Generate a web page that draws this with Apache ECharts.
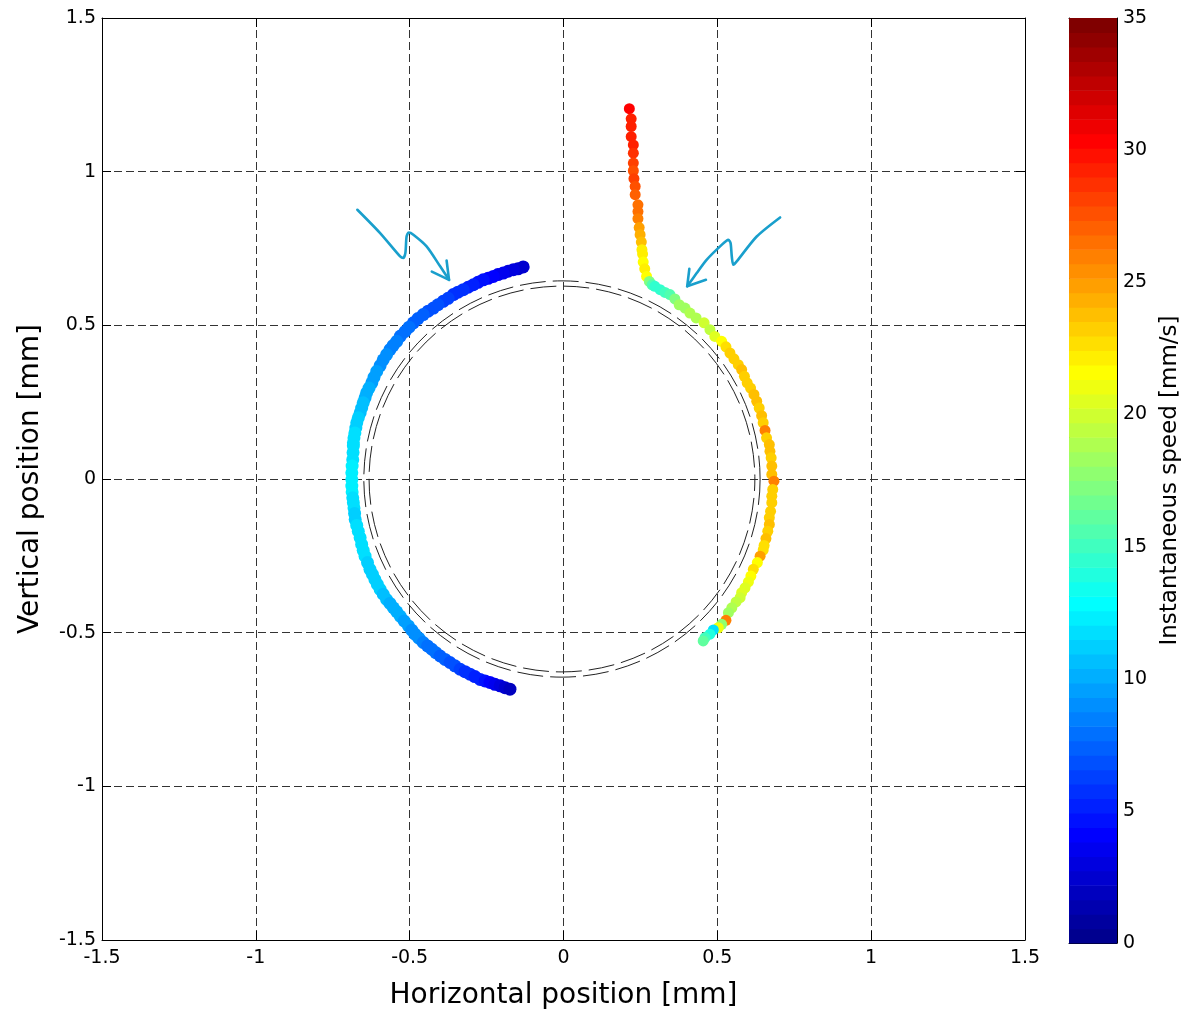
<!DOCTYPE html>
<html>
<head>
<meta charset="utf-8">
<script src="https://cdn.jsdelivr.net/npm/echarts@6/dist/echarts.min.js"></script>
<style>
  html, body { margin: 0; padding: 0; background: #fff; }
  #chart { width: 1186px; height: 1015px; }
</style>
</head>
<body>
<div id="chart"></div>
<script>
// Axis ticks (mm) and colour scale ticks (mm/s)
const posTicks = [-1.5, -1, -0.5, 0, 0.5, 1, 1.5];
const speedTicks = [0, 5, 10, 15, 20, 25, 30, 35];

// Incoming path from above, then around the right side: [x mm, y mm, speed mm/s]
const rightPath = [
  [0.214, 1.205, 30.5], [0.220, 1.172, 29.5], [0.220, 1.147, 29.5], [0.220, 1.114, 29],
  [0.227, 1.087, 29], [0.227, 1.060, 28.5], [0.227, 1.028, 28], [0.227, 1.003, 27.5],
  [0.229, 0.977, 28], [0.233, 0.952, 27.5], [0.233, 0.925, 27], [0.242, 0.892, 26.5],
  [0.242, 0.870, 26.5], [0.242, 0.847, 26], [0.246, 0.818, 25], [0.249, 0.795, 24.5],
  [0.253, 0.771, 24], [0.255, 0.746, 22], [0.257, 0.732, 22], [0.259, 0.706, 21.5],
  [0.264, 0.684, 22], [0.270, 0.659, 21.5], [0.279, 0.643, 17], [0.288, 0.632, 15.5],
  [0.297, 0.627, 14.5], [0.314, 0.616, 14.5], [0.330, 0.607, 15], [0.346, 0.600, 15.5],
  [0.362, 0.586, 17], [0.376, 0.567, 18.5], [0.395, 0.556, 18.5], [0.411, 0.540, 19],
  [0.431, 0.524, 19], [0.457, 0.508, 20], [0.476, 0.486, 19.5], [0.492, 0.464, 20.5],
  [0.514, 0.448, 21.5], [0.528, 0.430, 22.5], [0.541, 0.410, 23], [0.554, 0.391, 23],
  [0.568, 0.372, 23], [0.579, 0.356, 24], [0.588, 0.334, 23], [0.597, 0.313, 23.5],
  [0.608, 0.296, 23.5], [0.619, 0.275, 24], [0.628, 0.253, 24], [0.636, 0.231, 23.5],
  [0.644, 0.206, 24], [0.649, 0.183, 23.5], [0.655, 0.158, 26], [0.660, 0.134, 23.5],
  [0.669, 0.112, 24], [0.671, 0.090, 24], [0.675, 0.069, 23], [0.677, 0.042, 24],
  [0.677, 0.015, 24], [0.684, -0.007, 26], [0.680, -0.034, 23.5], [0.677, -0.056, 23.5],
  [0.677, -0.077, 23.5], [0.673, -0.105, 23], [0.669, -0.126, 23.5], [0.669, -0.148, 24],
  [0.664, -0.170, 23], [0.658, -0.194, 24], [0.652, -0.216, 22.5], [0.649, -0.231, 22.5],
  [0.639, -0.251, 25], [0.630, -0.272, 21.5], [0.617, -0.294, 22.5], [0.609, -0.316, 21.5],
  [0.601, -0.335, 21], [0.590, -0.354, 20.5], [0.579, -0.370, 20.5], [0.574, -0.386, 20],
  [0.561, -0.400, 19.5], [0.547, -0.419, 19], [0.536, -0.435, 18.5], [0.528, -0.460, 26],
  [0.514, -0.473, 18], [0.503, -0.484, 21], [0.487, -0.491, 12], [0.476, -0.505, 14],
  [0.460, -0.516, 15], [0.454, -0.527, 16]
];

// Slow sweep around the left side: [x mm, y mm, speed mm/s]
const leftPath = [
  [-0.131, 0.690, 2.5], [-0.148, 0.684, 2.7], [-0.163, 0.681, 3], [-0.180, 0.676, 3.2],
  [-0.196, 0.670, 3.5], [-0.213, 0.665, 3.8], [-0.228, 0.659, 4], [-0.245, 0.653, 4.2],
  [-0.261, 0.648, 4.5], [-0.278, 0.640, 4.8], [-0.293, 0.632, 5], [-0.310, 0.624, 5.2],
  [-0.326, 0.616, 5.5], [-0.343, 0.608, 5.8], [-0.358, 0.600, 6], [-0.375, 0.588, 6.2],
  [-0.391, 0.578, 6.5], [-0.408, 0.567, 6.8], [-0.423, 0.556, 7], [-0.440, 0.546, 7],
  [-0.456, 0.535, 7.2], [-0.473, 0.522, 7.3], [-0.488, 0.508, 7.5], [-0.502, 0.494, 7.8],
  [-0.515, 0.480, 8], [-0.530, 0.465, 8.2], [-0.542, 0.448, 8.5], [-0.554, 0.434, 8.5],
  [-0.564, 0.421, 8.7], [-0.575, 0.405, 8.8], [-0.586, 0.388, 9], [-0.596, 0.369, 9.2],
  [-0.607, 0.350, 9.5], [-0.616, 0.331, 9.5], [-0.623, 0.313, 9.7], [-0.632, 0.296, 10],
  [-0.640, 0.280, 10], [-0.645, 0.264, 10.2], [-0.651, 0.248, 10.5], [-0.656, 0.231, 10.5],
  [-0.661, 0.215, 10.7], [-0.667, 0.199, 11], [-0.672, 0.183, 11], [-0.675, 0.166, 11.2],
  [-0.678, 0.150, 11.5], [-0.681, 0.134, 11.5], [-0.683, 0.118, 11.7], [-0.683, 0.107, 12],
  [-0.684, 0.086, 12], [-0.685, 0.063, 12], [-0.687, 0.042, 12.3], [-0.688, 0.020, 12.5],
  [-0.688, -0.002, 12.5], [-0.688, -0.023, 12.5], [-0.687, -0.042, 12.2], [-0.685, -0.061, 12],
  [-0.683, -0.077, 11.7], [-0.681, -0.094, 11.5], [-0.679, -0.112, 11.2], [-0.677, -0.132, 11],
  [-0.672, -0.151, 11.5], [-0.667, -0.170, 12], [-0.661, -0.191, 12], [-0.656, -0.213, 12],
  [-0.651, -0.232, 11.8], [-0.645, -0.251, 11.5], [-0.637, -0.272, 11.2], [-0.629, -0.294, 11],
  [-0.621, -0.310, 11], [-0.613, -0.327, 11], [-0.605, -0.343, 11], [-0.596, -0.359, 11],
  [-0.586, -0.375, 10.8], [-0.575, -0.392, 10.5], [-0.564, -0.405, 10.2], [-0.553, -0.419, 10],
  [-0.542, -0.432, 10], [-0.531, -0.446, 10], [-0.518, -0.462, 9.8], [-0.504, -0.478, 9.5],
  [-0.493, -0.492, 9.2], [-0.483, -0.505, 9], [-0.470, -0.518, 8.8], [-0.456, -0.532, 8.5],
  [-0.442, -0.543, 8.2], [-0.428, -0.554, 8], [-0.415, -0.565, 7.8], [-0.401, -0.576, 7.5],
  [-0.385, -0.587, 7.2], [-0.369, -0.597, 7], [-0.353, -0.608, 6.8], [-0.336, -0.619, 6.5],
  [-0.320, -0.627, 6], [-0.304, -0.635, 5.5], [-0.288, -0.643, 5.2], [-0.271, -0.652, 5],
  [-0.255, -0.657, 4.5], [-0.239, -0.662, 4], [-0.223, -0.668, 3.5], [-0.206, -0.673, 3],
  [-0.190, -0.679, 2.5], [-0.174, -0.684, 2]
];

// Target ring boundaries: [centre x, centre y, radius] in mm
const rings = [[-0.005, 0, 0.644], [-0.005, 0, 0.627]];

// Hand-drawn pointer strokes (mm) and their arrow heads
const leftPointer = [
  [-0.670, 0.876], [-0.596, 0.800], [-0.531, 0.724], [-0.521, 0.719], [-0.514, 0.735],
  [-0.510, 0.789], [-0.503, 0.802], [-0.488, 0.795], [-0.445, 0.757], [-0.401, 0.692], [-0.372, 0.648]
];
const leftHead = [[-0.380, 0.711], [-0.372, 0.648], [-0.428, 0.675]];
const rightPointer = [
  [0.704, 0.851], [0.628, 0.789], [0.563, 0.708], [0.552, 0.697], [0.547, 0.724],
  [0.543, 0.768], [0.536, 0.778], [0.509, 0.757], [0.465, 0.713], [0.433, 0.670], [0.402, 0.627]
];
const rightHead = [[0.409, 0.684], [0.402, 0.627], [0.463, 0.648]];

// MATLAB-style jet colormap with m levels
function jet(m) {
  const n = Math.ceil(m / 4);
  const u = [];
  for (let i = 1; i <= n; i++) u.push(i / n);
  for (let i = 1; i < n; i++) u.push(1);
  for (let i = n; i >= 1; i--) u.push(i / n);
  const g0 = Math.ceil(n / 2) - (m % 4 === 1 ? 1 : 0);
  const rgb = Array.from({ length: m }, () => [0, 0, 0]);
  u.forEach((v, k) => {
    const g = g0 + k;          // zero-based green index
    const r = g + n, b = g - n;
    if (r >= 0 && r < m) rgb[r][0] = v;
    if (g >= 0 && g < m) rgb[g][1] = v;
    if (b >= 0 && b < m) rgb[b][2] = v;
  });
  return rgb.map(c => 'rgb(' + c.map(x => Math.round(x * 255)).join(',') + ')');
}

const levels = 64;
const cmin = speedTicks[0], cmax = speedTicks[speedTicks.length - 1];
const jetColors = jet(levels);
const step = (cmax - cmin) / levels;
const pieces = jetColors.map((c, i) => (
  i === levels - 1
    ? { gte: cmin + i * step, lte: cmax, color: c }
    : { gte: cmin + i * step, lt: cmin + (i + 1) * step, color: c }
));
const colorbarCells = jetColors.map((c, i) => [cmin + i * step, cmin + (i + 1) * step, i]);

const FONT = 'DejaVu Sans';
const posMin = posTicks[0], posMax = posTicks[posTicks.length - 1];
const posStep = posTicks[1] - posTicks[0];

function posAxis(extra) {
  return Object.assign({
    type: 'value', gridIndex: 0,
    min: posMin, max: posMax, interval: posStep,
    axisLine: { show: true, onZero: false, lineStyle: { color: '#000', width: 1 } },
    axisTick: { show: true, inside: true, length: 9, lineStyle: { color: '#000' } },
    axisLabel: { show: false },
    splitLine: { show: false }
  }, extra);
}

const labelStyle = { show: true, color: '#000', fontFamily: FONT, fontSize: 19 };
const gridDash = { show: true, lineStyle: { color: '#333', width: 1, type: [8, 4] } };
const pointerStyle = { color: '#199fcc', width: 2.6, cap: 'round', join: 'round' };

const chart = echarts.init(document.getElementById('chart'), null, { renderer: 'canvas' });

const option = {
  animation: false,
  backgroundColor: '#fff',
  grid: [
    { left: 102, top: 18, width: 923, height: 923 },
    { left: 1069, top: 18, width: 48, height: 925 }
  ],
  xAxis: [
    posAxis({
      position: 'bottom',
      axisLabel: Object.assign({}, labelStyle, { margin: 9 }),
      splitLine: gridDash,
      name: 'Horizontal position [mm]', nameLocation: 'middle', nameGap: 42,
      nameTextStyle: { color: '#000', fontFamily: FONT, fontSize: 28 }
    }),
    posAxis({ position: 'top' }),
    { type: 'value', gridIndex: 1, min: 0, max: 1, position: 'bottom',
      axisLine: { show: true, onZero: false, lineStyle: { color: '#000' } },
      axisTick: { show: false }, axisLabel: { show: false }, splitLine: { show: false } },
    { type: 'value', gridIndex: 1, min: 0, max: 1, position: 'top',
      axisLine: { show: true, onZero: false, lineStyle: { color: '#000' } },
      axisTick: { show: false }, axisLabel: { show: false }, splitLine: { show: false } }
  ],
  yAxis: [
    posAxis({
      position: 'left',
      axisLabel: Object.assign({}, labelStyle, { margin: 6 }),
      splitLine: gridDash,
      name: 'Vertical position [mm]', nameLocation: 'middle', nameGap: 57, nameRotate: 90,
      nameTextStyle: { color: '#000', fontFamily: FONT, fontSize: 28 }
    }),
    posAxis({ position: 'right' }),
    { type: 'value', gridIndex: 1, position: 'right',
      min: cmin, max: cmax, interval: speedTicks[1] - speedTicks[0],
      axisLine: { show: true, onZero: false, lineStyle: { color: '#000' } },
      axisTick: { show: true, inside: true, length: 10, lineStyle: { color: '#000' } },
      axisLabel: Object.assign({}, labelStyle, { margin: 6 }),
      splitLine: { show: false },
      name: 'Instantaneous speed [mm/s]', nameLocation: 'middle', nameGap: 42, nameRotate: 90,
      nameTextStyle: { color: '#000', fontFamily: FONT, fontSize: 23 } },
    { type: 'value', gridIndex: 1, position: 'left',
      min: cmin, max: cmax, interval: speedTicks[1] - speedTicks[0],
      axisLine: { show: true, onZero: false, lineStyle: { color: '#000' } },
      axisTick: { show: true, inside: true, length: 10, lineStyle: { color: '#000' } },
      axisLabel: { show: false }, splitLine: { show: false } }
  ],
  visualMap: [{
    type: 'piecewise', show: false, dimension: 2, seriesIndex: [1, 2], pieces: pieces
  }],
  series: [
    {
      name: 'rings', type: 'custom', xAxisIndex: 0, yAxisIndex: 0, z: 1,
      data: rings, silent: true,
      renderItem: function (params, api) {
        const c = api.coord([api.value(0), api.value(1)]);
        const r = api.size([api.value(2), 0])[0];
        return {
          type: 'circle',
          shape: { cx: c[0], cy: c[1], r: r },
          style: {
            fill: null, stroke: '#222', lineWidth: 1,
            lineDash: [26, 7], lineDashOffset: params.dataIndex * 14
          }
        };
      }
    },
    {
      name: 'left', type: 'scatter', xAxisIndex: 0, yAxisIndex: 0, z: 3,
      symbol: 'circle', symbolSize: 13, data: leftPath,
      itemStyle: { opacity: 1 }
    },
    {
      name: 'right', type: 'scatter', xAxisIndex: 0, yAxisIndex: 0, z: 3,
      symbol: 'circle', symbolSize: 11, data: rightPath,
      itemStyle: { opacity: 1 }
    },
    {
      type: 'line', xAxisIndex: 0, yAxisIndex: 0, z: 4, data: leftPointer,
      symbol: 'none', smooth: 0.25, silent: true, lineStyle: pointerStyle
    },
    {
      type: 'line', xAxisIndex: 0, yAxisIndex: 0, z: 4, data: rightPointer,
      symbol: 'none', smooth: 0.25, silent: true, lineStyle: pointerStyle
    },
    {
      type: 'line', xAxisIndex: 0, yAxisIndex: 0, z: 4, data: leftHead,
      symbol: 'none', smooth: false, silent: true, lineStyle: pointerStyle
    },
    {
      type: 'line', xAxisIndex: 0, yAxisIndex: 0, z: 4, data: rightHead,
      symbol: 'none', smooth: false, silent: true, lineStyle: pointerStyle
    },
    {
      name: 'colorbar', type: 'custom', xAxisIndex: 2, yAxisIndex: 2, z: 1,
      data: colorbarCells, silent: true,
      encode: { y: [0, 1] },
      renderItem: function (params, api) {
        const top = api.coord([0, api.value(1)]);
        const bot = api.coord([1, api.value(0)]);
        return {
          type: 'rect',
          shape: { x: top[0], y: top[1], width: bot[0] - top[0], height: bot[1] - top[1] + 0.6 },
          style: { fill: jetColors[api.value(2)] }
        };
      }
    }
  ]
};

chart.setOption(option);
</script>
</body>
</html>
